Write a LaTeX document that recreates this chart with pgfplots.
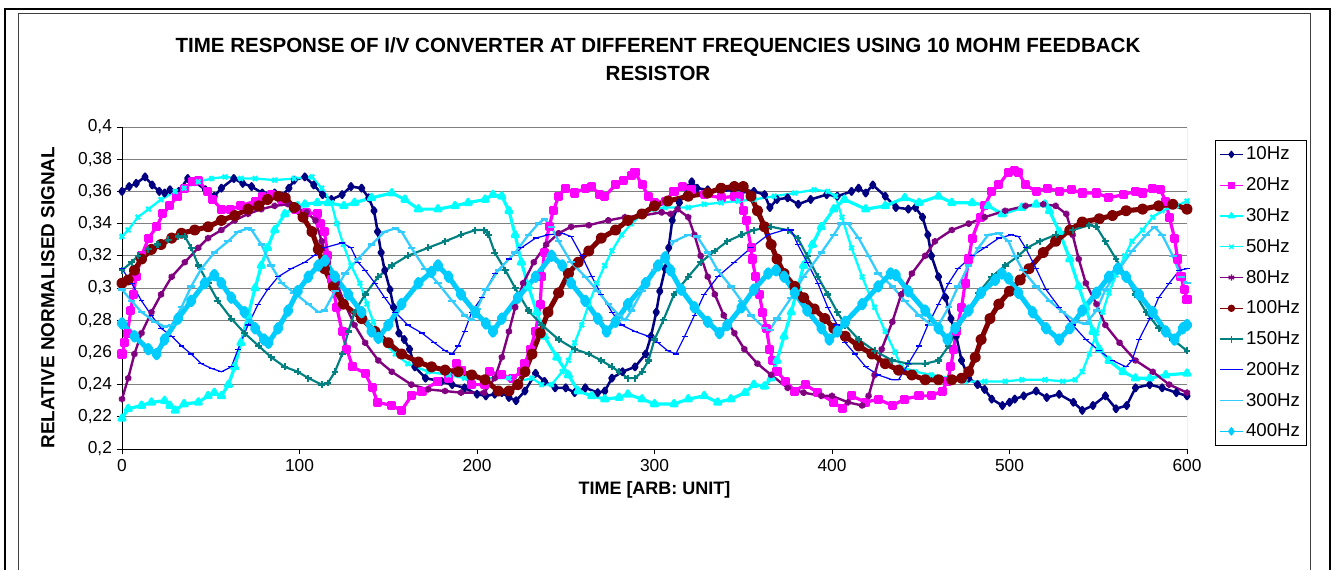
\documentclass[border=0pt]{standalone}
\usepackage{fontspec}
\setmainfont{Liberation Sans}
\usepackage{pgfplots}
\pgfplotsset{compat=1.18}
\definecolor{cNavy}{RGB}{0,0,128}
\definecolor{cMag}{RGB}{255,0,255}
\definecolor{cAqua}{RGB}{0,255,255}
\definecolor{cPurp}{RGB}{128,0,128}
\definecolor{cMaroon}{RGB}{128,0,0}
\definecolor{cTeal}{RGB}{0,128,128}
\definecolor{cBlue}{RGB}{0,0,255}
\definecolor{cSky}{RGB}{51,204,255}
\definecolor{cSkyB}{RGB}{0,204,255}
\definecolor{cGrid}{RGB}{128,128,128}
\begin{document}
\begin{tikzpicture}
\useasboundingbox (0,0) rectangle (1001.25pt,426.75pt);
% frames
\draw[line width=1.5pt] (3.75pt,-5pt) -- (3.75pt,420pt) -- (997.5pt,420pt) -- (997.5pt,-5pt);
\draw[line width=0.6pt, black!75] (13.5pt,-5pt) -- (13.5pt,417pt) -- (982.5pt,417pt) -- (982.5pt,-5pt);
% title
\node[align=center, font=\bfseries\fontsize{15.4}{21}\selectfont] at (493.5pt,382.5pt)
 {TIME RESPONSE OF I/V CONVERTER AT DIFFERENT FREQUENCIES USING 10 MOHM FEEDBACK\\RESISTOR};
\begin{axis}[
  at={(91.5pt,90pt)}, anchor=south west,
  scale only axis, width=798.75pt, height=241.5pt,
  xmin=0, xmax=600, ymin=0.2, ymax=0.4,
  xtick={0,100,200,300,400,500,600},
  xticklabels={0,100,200,300,400,500,600},
  ytick={0.2,0.22,0.24,0.26,0.28,0.3,0.32,0.34,0.36,0.38,0.4},
  yticklabels={{0,2},{0,22},{0,24},{0,26},{0,28},{0,3},{0,32},{0,34},{0,36},{0,38},{0,4}},
  axis lines*=left,
  axis line style={black, line width=0.75pt, -},
  tick align=outside, major tick length=4pt,
  tick style={black, line width=0.75pt},
  ymajorgrids, grid style={cGrid, line width=0.75pt},
  ticklabel style={font=\fontsize{13}{15}\selectfont},
  xlabel={TIME [ARB: UNIT]},
  ylabel={RELATIVE NORMALISED SIGNAL},
  label style={font=\bfseries\fontsize{13.5}{15}\selectfont},
  ylabel style={font=\bfseries\fontsize{14.2}{16}\selectfont},
  xlabel style={at={(axis description cs:0.5,-0.127)}, anchor=center},
  ylabel style={at={(axis description cs:-0.0695,0.47)}, anchor=center},
  legend style={at={(axis description cs:1.0263,0.96)}, anchor=north west,
    draw=black, line width=0.6pt, font=\fontsize{14}{16}\selectfont, cells={anchor=west},
    row sep=7.8pt, inner sep=3pt},
  legend image post style={line width=0.9pt},
  every axis plot/.append style={line join=round},
  clip=true,
]
\addplot[cNavy, line width=1.9pt, mark=diamond*, mark size=2.4pt, mark options={solid}] coordinates {
(0,0.360)(4,0.363)(8,0.365)(13,0.369)(17,0.364)(21,0.360)(24,0.359)(27,0.361)(32,0.360)(37,0.368)(41,0.366)(47,0.361)(52,0.357)(56,0.362)(63,0.368)(68,0.365)(73,0.363)(79,0.359)(86,0.359)(90,0.357)(94,0.362)(97,0.367)(103,0.369)(108,0.364)(113,0.358)(118,0.355)(124,0.358)(129,0.363)(135,0.362)(139,0.356)(142,0.348)(144,0.335)(146,0.322)(148,0.311)(151,0.299)(153,0.288)(156,0.272)(159,0.268)(162,0.262)(165,0.251)(171,0.244)(180,0.242)(186,0.240)(193,0.238)(200,0.234)(205,0.233)(210,0.234)(214,0.235)(218,0.232)(222,0.230)(227,0.236)(233,0.247)(238,0.242)(244,0.238)(250,0.238)(255,0.235)(261,0.238)(268,0.235)(272,0.236)(276,0.244)(282,0.248)(289,0.251)(295,0.259)(298,0.270)(301,0.285)(303,0.298)(306,0.312)(308,0.325)(310,0.342)(314,0.353)(319,0.362)(321,0.366)(324,0.362)(330,0.361)(337,0.360)(344,0.361)(350,0.361)(356,0.360)(362,0.358)(365,0.350)(369,0.355)(375,0.356)(381,0.352)(388,0.355)(397,0.358)(403,0.357)(411,0.360)(415,0.362)(419,0.359)(423,0.364)(430,0.357)(436,0.350)(443,0.349)(447,0.350)(451,0.344)(454,0.333)(456,0.320)(460,0.307)(464,0.294)(467,0.281)(470,0.270)(473,0.255)(477,0.244)(482,0.240)(486,0.237)(490,0.231)(496,0.227)(500,0.229)(503,0.231)(508,0.233)(515,0.236)(521,0.232)(528,0.234)(536,0.229)(541,0.224)(547,0.227)(554,0.233)(560,0.225)(566,0.227)(571,0.238)(579,0.240)(586,0.238)(594,0.235)(600,0.233)};
\addlegendentry{10Hz}
\addplot[cMag, line width=2.4pt, mark=square*, mark size=2.2pt, mark options={solid}] coordinates {
(0,0.259)(1.6,0.266)(3,0.272)(5,0.286)(6.3,0.296)(8,0.307)(11,0.320)(15,0.331)(19.5,0.338)(23,0.346)(27,0.351)(31,0.357)(35,0.362)(40,0.366)(43,0.367)(48,0.360)(51,0.355)(56,0.349)(61,0.349)(67,0.351)(75,0.354)(79,0.357)(84,0.358)(90,0.355)(98,0.349)(104,0.347)(110,0.346)(112,0.340)(114,0.335)(116,0.320)(118,0.305)(121,0.288)(124,0.273)(126.6,0.262)(130,0.251)(137,0.247)(141,0.238)(144,0.229)(152,0.227)(157.5,0.224)(163,0.233)(169,0.236)(178,0.242)(184,0.244)(188.5,0.253)(191,0.249)(197,0.240)(204,0.240)(207,0.248)(214,0.246)(220,0.244)(225,0.248)(227,0.253)(230,0.262)(233,0.273)(235.6,0.290)(236.5,0.307)(238,0.322)(240.6,0.338)(243,0.348)(246,0.357)(249.6,0.362)(255,0.359)(261,0.362)(264.7,0.363)(269,0.358)(272,0.357)(278,0.364)(282.5,0.367)(287,0.370)(289,0.372)(293,0.364)(296.6,0.357)(300,0.353)(306,0.354)(311,0.360)(316,0.363)(320.6,0.361)(328,0.358)(337.5,0.356)(345,0.357)(348,0.357)(350,0.348)(351.6,0.342)(354.4,0.325)(355,0.318)(357,0.307)(359,0.296)(361,0.285)(363,0.275)(365,0.262)(366.6,0.255)(369,0.248)(374,0.242)(379,0.236)(385,0.240)(392,0.235)(401,0.229)(406,0.225)(411,0.233)(419,0.229)(426,0.231)(434,0.227)(441,0.231)(449,0.233)(456,0.233)(462,0.236)(465,0.242)(467,0.251)(468.5,0.262)(470,0.273)(473,0.288)(475,0.303)(477,0.318)(479,0.331)(483.5,0.344)(486,0.351)(490,0.360)(494,0.364)(499.4,0.372)(503,0.373)(505,0.372)(509,0.364)(515,0.360)(521.6,0.362)(528,0.360)(535,0.361)(541,0.359)(549,0.359)(556,0.356)(564,0.358)(571,0.360)(575,0.359)(580.7,0.362)(585,0.361)(588,0.354)(590,0.344)(593,0.331)(594.7,0.318)(596.6,0.307)(598.5,0.299)(600,0.293)};
\addlegendentry{20Hz}
\addplot[cAqua, line width=2.4pt, mark=triangle*, mark size=2.6pt, mark options={solid}] coordinates {
(0,0.219)(3.5,0.225)(11,0.227)(16.6,0.229)(24,0.230)(27,0.227)(30,0.224)(35,0.228)(43,0.229)(48.5,0.233)(52,0.235)(56,0.233)(60,0.240)(63.5,0.251)(67,0.266)(71,0.283)(75,0.300)(78.5,0.314)(82,0.325)(86,0.336)(91.7,0.346)(99,0.351)(103,0.352)(110,0.353)(116,0.353)(125,0.351)(131,0.353)(140.6,0.356)(152,0.359)(159.4,0.355)(167,0.349)(178,0.349)(187.6,0.351)(195,0.353)(204.6,0.355)(209,0.358)(214,0.357)(218,0.348)(221.5,0.333)(225,0.316)(229,0.301)(233.7,0.285)(238,0.270)(245,0.257)(251.5,0.246)(257,0.236)(264.7,0.233)(272,0.231)(280,0.232)(285,0.234)(293,0.231)(300,0.228)(311,0.228)(319,0.231)(328,0.233)(335.6,0.229)(343,0.231)(351,0.235)(356,0.240)(362,0.239)(365.7,0.244)(369,0.255)(373,0.270)(377,0.285)(380.7,0.300)(384,0.314)(389,0.327)(394,0.338)(401,0.349)(407,0.355)(419,0.349)(430,0.351)(441,0.356)(449,0.353)(460,0.357)(467.5,0.353)(479,0.353)(488,0.351)(496,0.346)(507,0.350)(515,0.352)(520,0.352)(522.5,0.348)(528,0.335)(534,0.318)(539,0.301)(543,0.288)(547,0.273)(550.6,0.262)(556,0.255)(564,0.248)(571,0.244)(579,0.244)(588,0.246)(600,0.247)};
\addlegendentry{30Hz}
\addplot[cAqua, line width=1.7pt, mark=x, mark size=2.4pt, mark options={solid}] coordinates {
(0,0.332)(3.5,0.336)(9,0.344)(15,0.349)(22,0.355)(30,0.360)(35,0.362)(43,0.366)(50.5,0.368)(58,0.369)(67,0.368)(75,0.368)(86,0.367)(97,0.368)(107,0.369)(112.5,0.362)(118,0.353)(121,0.340)(124.7,0.327)(129,0.314)(134,0.303)(138,0.290)(141.6,0.279)(146,0.268)(154,0.259)(161,0.253)(172.5,0.248)(184,0.246)(193,0.244)(205,0.244)(218,0.244)(223,0.242)(231,0.244)(236.5,0.240)(242,0.240)(248,0.248)(251.5,0.255)(255,0.266)(259,0.277)(263,0.290)(267.5,0.303)(272,0.314)(276,0.323)(281.5,0.333)(287,0.340)(293,0.346)(300,0.349)(306,0.350)(319,0.350)(328,0.352)(337.5,0.353)(347,0.354)(356,0.355)(367.5,0.357)(379,0.359)(390,0.361)(397.6,0.360)(402,0.357)(405.6,0.344)(411,0.325)(417,0.307)(424,0.288)(430,0.273)(435.6,0.260)(439,0.251)(447,0.248)(456,0.246)(467.5,0.244)(475,0.242)(486,0.242)(497.6,0.242)(507,0.243)(520,0.243)(530,0.242)(537,0.243)(541,0.248)(545,0.259)(549,0.272)(552.5,0.285)(556,0.297)(560,0.308)(565,0.320)(569,0.329)(575,0.336)(580.7,0.344)(586,0.348)(594,0.351)(600,0.354)};
\addlegendentry{50Hz}
\addplot[cPurp, line width=1.8pt, mark=asterisk, mark size=2.4pt, mark options={solid}] coordinates {
(0,0.231)(3.5,0.244)(7,0.259)(11,0.272)(16.6,0.285)(22,0.296)(28,0.307)(35.4,0.316)(43,0.325)(48.5,0.331)(56,0.336)(63.5,0.342)(71,0.346)(78.5,0.349)(86,0.351)(93.6,0.352)(99,0.350)(104,0.347)(109,0.342)(112.5,0.329)(116,0.316)(121,0.303)(125.6,0.290)(131,0.277)(137,0.266)(144.4,0.255)(152,0.248)(163,0.240)(172.5,0.237)(182,0.236)(191,0.235)(204,0.235)(210,0.244)(214,0.257)(218,0.273)(221.5,0.288)(226,0.303)(232,0.316)(239,0.327)(246,0.334)(253,0.338)(263,0.339)(274,0.342)(283.4,0.344)(293,0.345)(304,0.347)(309,0.346)(313,0.349)(319,0.344)(322.5,0.333)(326,0.320)(330,0.307)(334,0.296)(339,0.283)(345,0.272)(350.6,0.262)(358,0.253)(365.7,0.246)(375,0.238)(384,0.235)(394,0.233)(400,0.233)(409,0.229)(417,0.227)(420.6,0.233)(424,0.246)(428,0.262)(434,0.279)(439,0.296)(445,0.309)(452.5,0.320)(458,0.329)(467.5,0.336)(477,0.340)(486,0.344)(497.6,0.348)(509,0.351)(519,0.352)(526,0.351)(532,0.346)(535.6,0.333)(539,0.318)(543,0.303)(549,0.290)(554,0.277)(562,0.266)(571,0.255)(580.7,0.248)(590,0.240)(600,0.235)};
\addlegendentry{80Hz}
\addplot[cMaroon, line width=3.8pt, mark=*, mark size=2.3pt, mark options={solid}] coordinates {
(0,0.303)(3.5,0.305)(7,0.311)(11,0.318)(16.6,0.324)(22,0.327)(28,0.331)(33.5,0.334)(41,0.336)(48.5,0.338)(56,0.342)(63.5,0.345)(71,0.349)(77,0.351)(82,0.355)(88,0.357)(92,0.356)(97,0.350)(102,0.344)(107,0.335)(110.6,0.324)(114,0.312)(119,0.301)(124.7,0.290)(135,0.281)(142.5,0.273)(150,0.266)(157.5,0.259)(167,0.254)(174.4,0.251)(182,0.249)(189.4,0.248)(197,0.246)(204.5,0.243)(212,0.236)(218,0.236)(223,0.240)(227,0.248)(231,0.259)(235.6,0.272)(240,0.285)(246,0.297)(251.5,0.309)(257,0.316)(263,0.323)(270,0.331)(278,0.336)(285,0.342)(293,0.346)(300,0.351)(307.5,0.354)(319,0.357)(330,0.359)(337.5,0.362)(345,0.363)(350,0.363)(354.4,0.357)(358,0.348)(362,0.338)(365.7,0.327)(369,0.318)(373,0.309)(379,0.301)(384,0.294)(390,0.287)(396,0.281)(401,0.275)(407.5,0.270)(415,0.264)(422.5,0.259)(430,0.253)(437.5,0.249)(445,0.246)(452.5,0.243)(460,0.243)(467.5,0.243)(473,0.244)(477,0.248)(480.7,0.257)(484,0.268)(489,0.281)(494,0.290)(500,0.298)(506,0.305)(511,0.312)(519,0.322)(526,0.329)(534,0.336)(541,0.341)(550.6,0.343)(558,0.345)(565.7,0.348)(575,0.349)(584,0.351)(592,0.352)(600,0.349)};
\addlegendentry{100Hz}
\addplot[cTeal, line width=1.6pt, mark=+, mark size=2.6pt, mark options={solid}] coordinates {
(0,0.311)(5.4,0.316)(9,0.320)(14.8,0.324)(20,0.327)(26,0.330)(31.6,0.332)(35.4,0.332)(39,0.325)(43,0.314)(48.5,0.303)(54,0.292)(61.6,0.281)(69,0.272)(77,0.264)(84,0.257)(91.7,0.251)(99,0.248)(105,0.244)(112.5,0.240)(116,0.241)(120,0.248)(124,0.259)(127.5,0.273)(131,0.285)(137,0.296)(144.4,0.307)(152,0.314)(161,0.320)(172.5,0.325)(182,0.329)(191,0.333)(199,0.336)(204,0.336)(206.5,0.333)(210,0.322)(216,0.311)(221.5,0.300)(229,0.286)(236.5,0.277)(246,0.268)(255,0.262)(263,0.259)(270,0.255)(276,0.251)(280,0.248)(285,0.244)(289,0.244)(293,0.248)(296.6,0.255)(300,0.268)(305,0.280)(311,0.296)(319,0.307)(326,0.316)(334,0.323)(341,0.329)(349,0.333)(356,0.336)(365.7,0.338)(375,0.336)(380.7,0.331)(386,0.320)(392,0.307)(397.6,0.296)(403,0.285)(407.5,0.277)(415,0.268)(424,0.261)(434,0.255)(443,0.253)(452.5,0.253)(460,0.255)(465.7,0.264)(471,0.275)(477,0.286)(482.5,0.297)(490,0.307)(497.6,0.314)(505,0.320)(510,0.325)(517,0.329)(526,0.333)(535.6,0.336)(545,0.339)(549,0.338)(554,0.329)(560,0.318)(565.7,0.307)(571,0.296)(577,0.285)(584,0.275)(592,0.268)(600,0.261)};
\addlegendentry{150Hz}
\addplot[cBlue, line width=0.9pt, mark=-, mark size=2.2pt, mark options={solid}] coordinates {
(0,0.312)(5.4,0.303)(11,0.292)(16.6,0.283)(22,0.275)(28,0.270)(33.5,0.264)(39,0.259)(44.7,0.253)(50.5,0.250)(56,0.248)(61.6,0.251)(65.4,0.262)(71,0.277)(76.7,0.290)(82,0.299)(88,0.307)(95.4,0.312)(103,0.316)(108,0.320)(114,0.325)(124,0.328)(129,0.325)(133,0.316)(137,0.311)(142.5,0.303)(148,0.294)(154,0.285)(161,0.277)(169,0.272)(176,0.266)(182,0.261)(186,0.259)(189.4,0.264)(193,0.273)(197,0.285)(202.6,0.294)(210,0.309)(218,0.318)(225,0.325)(233,0.331)(240,0.333)(248,0.334)(253,0.332)(259,0.320)(264.7,0.307)(270,0.296)(276,0.285)(281.5,0.277)(289,0.273)(296.6,0.270)(302,0.266)(307.5,0.261)(312,0.259)(317,0.270)(322.5,0.283)(328,0.296)(335.6,0.307)(345,0.316)(354.4,0.325)(364,0.333)(373,0.336)(377,0.336)(380.7,0.327)(386,0.316)(392,0.303)(397.6,0.288)(403,0.277)(407.5,0.266)(413,0.259)(419,0.251)(426,0.246)(434,0.243)(437.5,0.243)(443,0.253)(449,0.264)(454,0.277)(460,0.290)(465.7,0.303)(471,0.312)(479,0.320)(486,0.325)(494,0.331)(501,0.333)(505,0.332)(509,0.325)(515,0.312)(520.6,0.299)(528,0.288)(535.6,0.277)(543,0.268)(550.6,0.261)(558,0.255)(565.7,0.251)(569,0.255)(573,0.268)(579,0.281)(584,0.294)(590,0.303)(595.7,0.311)(600,0.312)};
\addlegendentry{200Hz}
\addplot[cSky, line width=1.7pt, mark=-, mark size=2.8pt, mark options={solid}] coordinates {
(0,0.299)(5.4,0.292)(11,0.285)(18.6,0.279)(24,0.276)(28,0.277)(33.5,0.288)(39,0.301)(44.7,0.312)(52,0.322)(59.8,0.329)(65.4,0.335)(71,0.337)(73,0.336)(78.5,0.327)(84,0.314)(90,0.303)(97,0.297)(105,0.290)(110.6,0.285)(114,0.286)(120,0.298)(125.6,0.309)(133,0.318)(140.6,0.327)(148,0.335)(154,0.337)(157.5,0.335)(163,0.325)(170.7,0.312)(178,0.303)(186,0.292)(193,0.283)(197,0.280)(200,0.287)(205,0.299)(212,0.311)(221.5,0.322)(229,0.333)(234.6,0.340)(238,0.343)(242,0.338)(246,0.329)(253,0.316)(261,0.307)(268,0.298)(274,0.290)(280,0.283)(283.4,0.280)(287,0.286)(293,0.298)(300,0.311)(305.6,0.320)(311,0.329)(319,0.333)(324,0.332)(330,0.322)(335.6,0.311)(343,0.301)(349,0.292)(354.4,0.283)(362,0.275)(365,0.274)(369,0.281)(377,0.294)(384,0.307)(394,0.322)(401,0.333)(405,0.340)(409,0.340)(415,0.331)(420.6,0.320)(426,0.309)(434,0.301)(441,0.292)(449,0.283)(456,0.277)(460,0.277)(465.7,0.288)(471,0.301)(477,0.314)(482.5,0.325)(488,0.333)(494,0.334)(499.4,0.329)(503,0.320)(507.5,0.311)(515,0.301)(522.5,0.292)(530,0.285)(537.5,0.279)(543,0.278)(549,0.286)(554,0.299)(562,0.312)(569,0.323)(577,0.333)(581.6,0.338)(586,0.333)(592,0.320)(596.6,0.307)(600,0.303)};
\addlegendentry{300Hz}
\addplot[cSkyB, line width=3.8pt, mark=diamond*, mark size=2.8pt, mark options={solid}] coordinates {
(0,0.278)(7,0.270)(14.8,0.262)(19.5,0.259)(24,0.268)(31.6,0.281)(39,0.292)(46.6,0.303)(52,0.308)(56,0.303)(61.6,0.294)(69,0.285)(75,0.275)(80,0.268)(82.5,0.266)(88,0.275)(93.6,0.286)(99,0.298)(105,0.307)(110.6,0.314)(114.4,0.317)(120,0.307)(127.5,0.296)(135,0.285)(140.6,0.273)(144.4,0.269)(150,0.277)(157.5,0.290)(167,0.303)(174.4,0.310)(178,0.314)(184,0.307)(191,0.296)(199,0.285)(205,0.278)(209,0.273)(214,0.281)(223,0.294)(233,0.307)(242,0.320)(248,0.314)(253,0.303)(261,0.292)(268,0.281)(273,0.273)(278,0.279)(285,0.290)(295,0.303)(302,0.314)(306,0.319)(309,0.311)(315,0.299)(322.5,0.288)(330,0.279)(336.6,0.272)(341,0.277)(349,0.288)(356,0.299)(364,0.309)(368.5,0.311)(373,0.307)(379,0.297)(386,0.286)(394,0.275)(398.5,0.268)(403,0.273)(407.5,0.279)(417,0.290)(426,0.301)(433,0.309)(436,0.308)(443,0.298)(452.5,0.286)(460,0.275)(465,0.268)(469.4,0.275)(477,0.286)(484,0.297)(492,0.305)(495.7,0.309)(499.4,0.306)(505,0.297)(513,0.285)(520.6,0.275)(528,0.268)(534,0.275)(541,0.286)(549,0.297)(556,0.307)(561,0.312)(565.7,0.307)(573,0.296)(580.7,0.285)(588,0.273)(593,0.268)(597.6,0.275)(600,0.277)};
\addlegendentry{400Hz}
\draw[cGrid, line width=0.75pt] (rel axis cs:1,0) -- (rel axis cs:1,1);
\end{axis}
\end{tikzpicture}
\end{document}
